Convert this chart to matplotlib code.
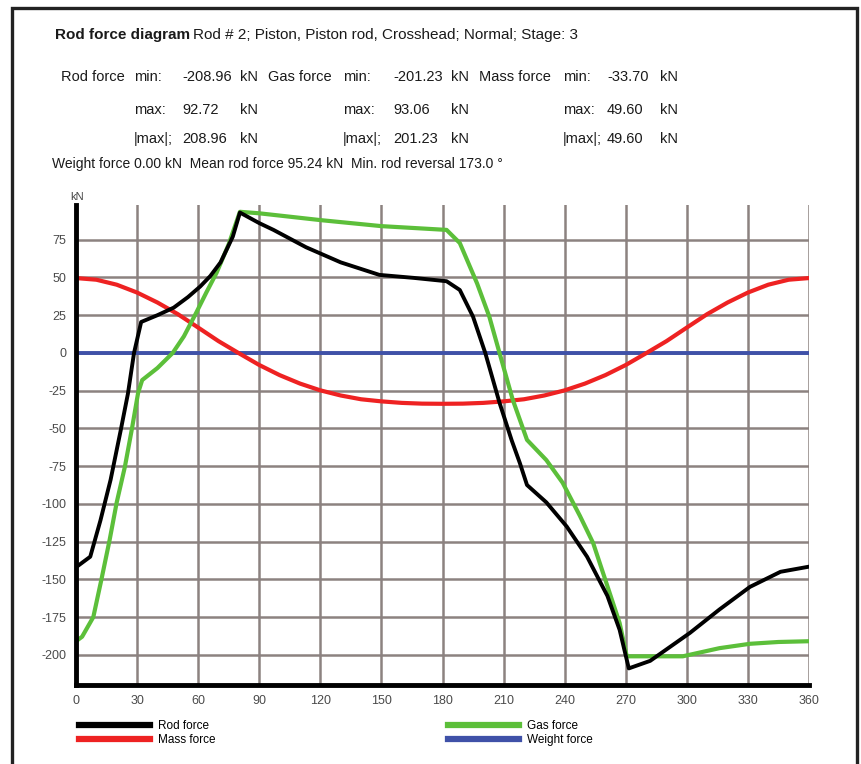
import matplotlib.pyplot as plt
from matplotlib.patches import Rectangle

FONT = ['Liberation Sans Narrow', 'Liberation Sans', 'DejaVu Sans']
plt.rcParams['font.family'] = FONT
plt.rcParams['axes.unicode_minus'] = False

# crank angle (deg) / force (kN)
rod_deg = [0, 7, 12, 17, 22, 25.5, 28.5, 32, 40, 48, 55, 61, 66, 71, 77, 80.5,
           90, 97, 113, 130, 149, 166, 182, 188.5, 195, 201, 208, 214, 218, 221.5,
           231, 241, 251, 261, 267, 271.5, 282, 301.5, 316, 331, 346, 360]
rod_kN = [-142, -135, -111, -84, -51, -27, 0, 20.5, 25, 30, 37, 44, 51, 60, 77, 93,
          86, 81.5, 70, 60, 51.7, 49.7, 47.5, 41.7, 24, 0, -33, -58, -73, -87.5,
          -99, -115, -135, -161, -183.5, -209, -204, -185.5, -170, -155, -145, -141.6]

gas_deg = [0, 3, 8.5, 12.5, 16.5, 20, 24, 27.5, 30.5, 32.5, 40, 47.5, 53, 59, 64, 69,
           75, 80.5, 90, 120, 150, 182, 188.5, 197, 203, 208, 214.5, 221.5,
           231, 239, 247.5, 254, 260.5, 267, 270.5, 298, 316, 331, 345, 360]
gas_kN = [-191, -188, -175, -150, -124, -99, -75.5, -50, -26.5, -18, -10, 0, 11, 26.5,
          40, 53, 72, 93.5, 92.5, 88, 84, 81.5, 72.8, 46, 24, 0, -31, -57.6,
          -71, -86, -108, -126, -152.5, -179, -201, -201, -195.6, -192.7, -191.5, -191]

mass_deg = [0, 10, 20, 30, 40, 50, 60, 70, 80, 90, 100, 110, 120, 130, 140, 150, 160, 170, 180,
            190, 200, 210, 220, 230, 240, 250, 260, 270, 280, 290, 300, 310, 320, 330, 340, 350, 360]
mass_kN = [49.6, 48.5, 45.2, 40.0, 33.4, 25.7, 16.8, 7.8, -0.2, -8.0, -14.7, -20.3, -24.8,
           -28.2, -30.7, -32.1, -33.1, -33.6, -33.7, -33.6, -33.1, -32.1, -30.7, -28.2, -24.8,
           -20.3, -14.7, -8.0, -0.2, 7.8, 16.8, 25.7, 33.4, 40.0, 45.2, 48.5, 49.6]

weight_deg = [0, 360]
weight_kN = [0.0, 0.0]

x_ticks = list(range(0, 361, 30))
y_ticks = list(range(-200, 76, 25))

W, H = 861, 764
fig = plt.figure(figsize=(W / 100, H / 100), dpi=100)
fig.patch.set_facecolor('white')

def px(x, y):
    return x / W, 1 - y / H

# frame around the whole chart
fig.patches.append(Rectangle(px(12, 800), (857 - 12) / W, (800 - 8) / H,
                             transform=fig.transFigure, fill=False,
                             edgecolor='#222222', linewidth=2.4))

l, b = px(76, 685)
r, t = px(809, 205)
ax = fig.add_axes([l, b, r - l, t - b])

grid_c = '#8c8280'
for xv in x_ticks[1:]:
    ax.axvline(xv, color=grid_c, lw=1.8, zorder=1)
for yv in y_ticks:
    ax.axhline(yv, color=grid_c, lw=1.8, zorder=1)

ax.plot(weight_deg, weight_kN, color='#3f51a8', lw=2.8, zorder=3, label='Weight force')
ax.plot(mass_deg, mass_kN, color='#ee2222', lw=3, zorder=4, label='Mass force')
ax.plot(gas_deg, gas_kN, color='#5cbf3a', lw=3, zorder=5, label='Gas force')
ax.plot(rod_deg, rod_kN, color='black', lw=2.8, zorder=6, label='Rod force')

ax.set_xlim(0, 360)
ax.set_ylim(-220, 98)
ax.set_xticks(x_ticks)
ax.set_yticks(y_ticks)
ax.tick_params(length=0, labelsize=9, colors='#4a4a4a', pad=7)
for s in ['top', 'right']:
    ax.spines[s].set_visible(False)
for s in ['left', 'bottom']:
    ax.spines[s].set_linewidth(3.5)
    ax.spines[s].set_color('black')
    ax.spines[s].set_zorder(7)

fig.text(*px(70, 197), 'kN', fontsize=8, ha='left', va='center', color='#444444')

# header block
def txt(x, y, s, size=10.5, **kw):
    fig.text(*px(x, y), s, fontsize=size, ha='left', va='center', color='#1a1a1a', **kw)

txt(55, 35, 'Rod force diagram', size=11, fontweight='bold')
txt(193, 35, 'Rod # 2; Piston, Piston rod, Crosshead; Normal; Stage: 3', size=11)

names = ['Rod force', 'Gas force', 'Mass force']
name_x = [61, 268, 479]
lab_x = [134, 343, 563]
val_x = [182, 393, 607]
kn_x = [240, 451, 660]
vals = [['-208.96', '92.72', '208.96'],
        ['-201.23', '93.06', '201.23'],
        ['-33.70', '49.60', '49.60']]
row_y = [77, 110, 139]
row_lab = ['min:', 'max:', '|max|;']
for i in range(3):
    txt(name_x[i], row_y[0], names[i])
    for j in range(3):
        txt(lab_x[i], row_y[j], row_lab[j])
        txt(val_x[i], row_y[j], vals[i][j])
        txt(kn_x[i], row_y[j], 'kN')

txt(52, 164, 'Weight force 0.00 kN  Mean rod force 95.24 kN  Min. rod reversal 173.0 \u00b0', size=10)

# legend, two columns under the axis
h = {ln.get_label(): ln for ln in ax.get_lines()}
for keys, x0 in [(['Rod force', 'Mass force'], 79), (['Gas force', 'Weight force'], 448)]:
    leg = fig.legend([h[k] for k in keys], keys, loc='upper left',
                     bbox_to_anchor=px(x0, 720), frameon=False,
                     fontsize=8.5, handlelength=6.0, handletextpad=0.7,
                     labelspacing=0.2, borderaxespad=0, borderpad=0)
    for ln in leg.get_lines():
        ln.set_linewidth(4.5)

fig.savefig('out.png', dpi=100, facecolor='white')
